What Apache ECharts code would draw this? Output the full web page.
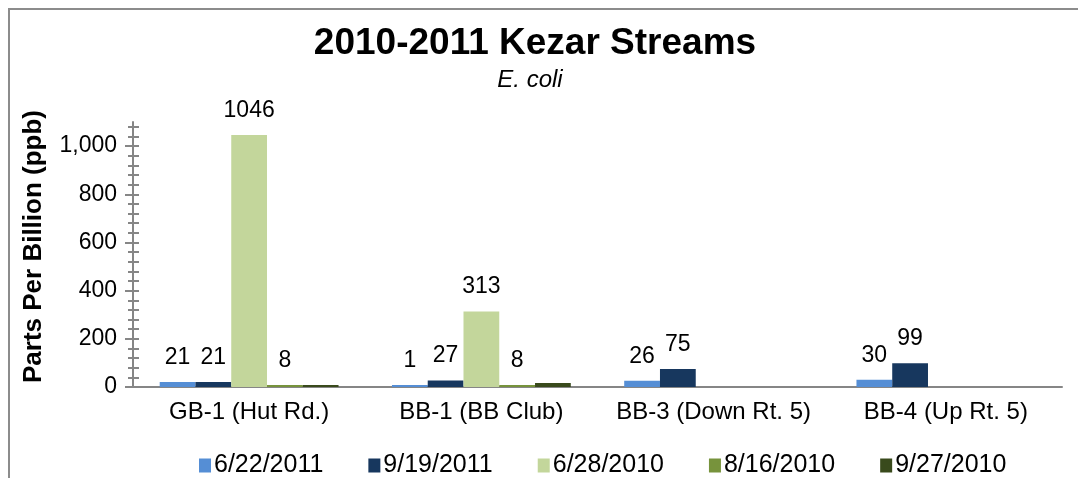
<!DOCTYPE html>
<html>
<head>
<meta charset="utf-8">
<title>2010-2011 Kezar Streams</title>
<script src="https://cdn.jsdelivr.net/npm/echarts@6/dist/echarts.min.js"></script>
<style>
    html, body { margin: 0; padding: 0; background: #fff; }
    #chart { width: 1078px; height: 478px; }
</style>
</head>
<body>
<div id="chart"></div>
<script>
// sites along the x axis
const sites = ['GB-1 (Hut Rd.)', 'BB-1 (BB Club)', 'BB-3 (Down Rt. 5)', 'BB-4 (Up Rt. 5)'];

// sampling dates (legend order) and their E. coli values, ppb
const dates = ['6/22/2011', '9/19/2011', '6/28/2010', '8/16/2010', '9/27/2010'];
const jun22_2011 = [21, 1, 26, 30];
const sep19_2011 = [21, 27, 75, 99];
const jun28_2010 = [1046, 313, null, null];
const aug16_2010 = [8, 8, null, null];
const sep27_2010 = [8, 17, null, null];   // not labelled in the original
const dateValues = [jun22_2011, sep19_2011, jun28_2010, aug16_2010, sep27_2010];
const showLabel = [true, true, true, true, false];

const colors = ['#558ED5', '#17375E', '#C3D69B', '#77933C', '#394A1C'];

// y axis ticks
const yLabels = [0, 200, 400, 600, 800, 1000];
const yMax = 1100;
const minorStep = 40;
const allTicks = [];
for (let v = 0; v < yMax; v += minorStep) allTicks.push(v);

const font = 'Liberation Sans, Arial, sans-serif';
const axisGray = '#868686';

const baseY = {
    type: 'value',
    min: 0,
    max: yMax,
    position: 'left',
    offset: 0,
    splitLine: {show: false},
    axisLine: {show: false},
    axisLabel: {show: false}
};

const option = {
    animation: false,
    backgroundColor: '#fff',
    color: colors,
    textStyle: {fontFamily: font},
    title: [{
        text: '2010-2011 Kezar Streams',
        left: 530,
        top: 20,
        textAlign: 'center',
        textStyle: {fontFamily: font, fontSize: 37, fontWeight: 'bold', color: '#000'}
    }, {
        text: 'E. coli',
        left: 525,
        top: 63,
        textAlign: 'center',
        textStyle: {fontFamily: font, fontSize: 24, fontStyle: 'italic', fontWeight: 'normal', color: '#000'}
    }],
    legend: {
        data: dates,
        left: 194,
        top: 448,
        itemWidth: 12,
        itemHeight: 14,
        itemGap: 45,
        icon: 'rect',
        textStyle: {fontFamily: font, fontSize: 25, color: '#000', padding: [0, 0, 0, -2]}
    },
    grid: {left: 133, right: 16, top: 122, bottom: 91, containLabel: false},
    xAxis: {
        type: 'category',
        data: sites,
        axisLine: {lineStyle: {color: axisGray, width: 2}},
        axisTick: {show: false},
        axisLabel: {interval: 0, fontFamily: font, fontSize: 24, color: '#000', margin: 13}
    },
    yAxis: [{
        type: 'value',
        min: 0,
        max: yMax,
        name: 'Parts Per Billion (ppb)',
        nameLocation: 'middle',
        nameGap: 86,
        nameTextStyle: {fontFamily: font, fontSize: 26, fontWeight: 'bold', color: '#000', padding: [0, 0, 0, 16]},
        splitLine: {show: false},
        axisLine: {show: true, lineStyle: {color: axisGray, width: 2}},
        axisTick: {show: true, customValues: yLabels, length: 8, lineStyle: {color: axisGray, width: 2}},
        axisLabel: {
            customValues: yLabels,
            fontFamily: font, fontSize: 23, color: '#000', margin: 16,
            formatter: v => v.toLocaleString('en-US')
        }
    }, Object.assign({}, baseY, {
        axisTick: {show: true, customValues: allTicks, length: 5, lineStyle: {color: axisGray, width: 2}}
    }), Object.assign({}, baseY, {
        axisTick: {show: true, inside: true, customValues: allTicks, length: 6, lineStyle: {color: axisGray, width: 2}}
    })],
    graphic: [{
        type: 'rect',
        shape: {x: 9, y: 9, width: 1200, height: 600},
        style: {fill: null, stroke: '#8c8c8c', lineWidth: 2},
        silent: true
    }],
    series: dates.map((d, i) => ({
        name: d,
        type: 'bar',
        yAxisIndex: 0,
        data: dateValues[i],
        barGap: '0%',
        barCategoryGap: '23%',
        barMinHeight: 2,
        label: {
            show: showLabel[i],
            position: 'top',
            distance: 13,
            fontFamily: font,
            fontSize: 23,
            color: '#000'
        }
    }))
};

const myChart = echarts.init(document.getElementById('chart'), null, {renderer: 'canvas'});
myChart.setOption(option);
</script>
</body>
</html>
